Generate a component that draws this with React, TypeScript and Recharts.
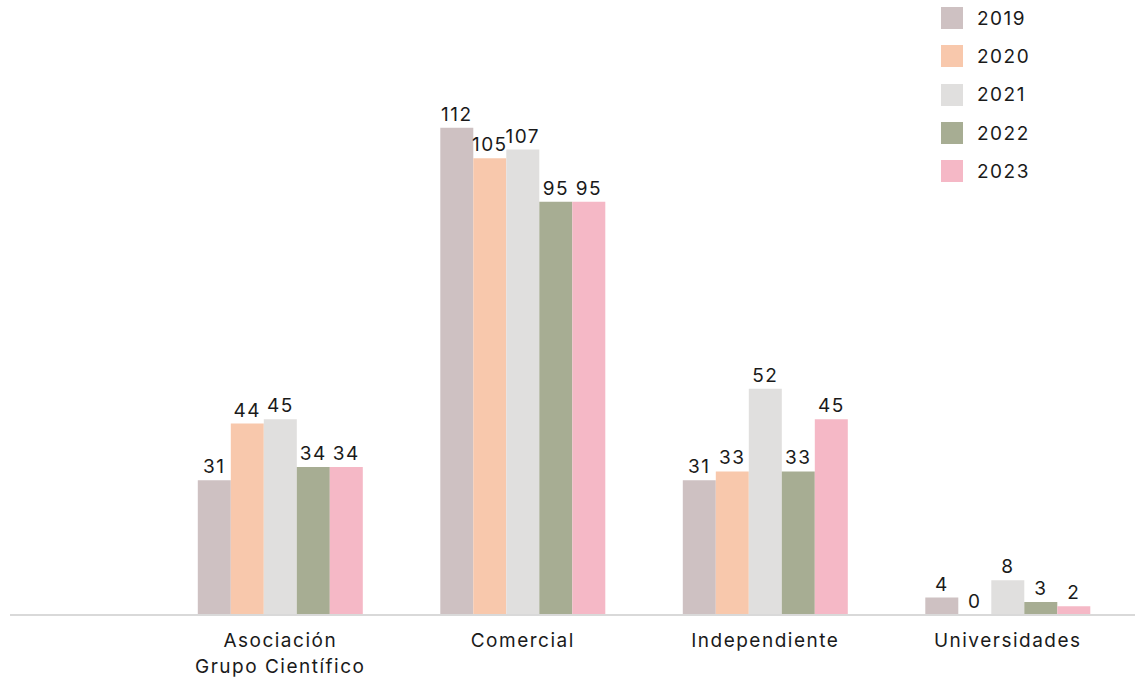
import { BarChart, Bar, XAxis, YAxis, LabelList } from 'recharts'

const categories = ['Asociación\nGrupo Científico', 'Comercial', 'Independiente', 'Universidades']
const years = ['2019', '2020', '2021', '2022', '2023']
const values2019 = [31, 112, 31, 4]
const values2020 = [44, 105, 33, 0]
const values2021 = [45, 107, 52, 8]
const values2022 = [34, 95, 33, 3]
const values2023 = [34, 95, 45, 2]

const seriesValues = [values2019, values2020, values2021, values2022, values2023]
const colors = ['#cec1c2', '#f8c8ac', '#e0dfde', '#a7ad93', '#f5b8c6']

const FONT = 'Inter, "Open Sans", sans-serif'
const TEXT = '#1a1a1a'
const SPACING = 1.5

const data = categories.map((name, i) => {
  const row: Record<string, string | number> = { name }
  years.forEach((y, k) => {
    row[y] = seriesValues[k][i]
  })
  return row
})

function CategoryTick({ x, y, payload }: any) {
  const lines = String(payload.value).split('\n')
  return (
    <text x={x} y={y} textAnchor="middle" fill={TEXT} fontSize={19} fontFamily={FONT} letterSpacing={SPACING}>
      {lines.map((line, i) => (
        <tspan key={i} x={x} dy={i === 0 ? 24 : 26}>
          {line}
        </tspan>
      ))}
    </text>
  )
}

// keep a label on zero bars: give them an invisible height
const zeroSize = (value: any) => (value === 0 ? 0.01 : 0)

export default function App() {
  return (
    <div style={{ position: 'absolute', left: 0, top: 0, width: 1140, height: 683, background: '#fff' }}>
      <BarChart
        width={1140}
        height={683}
        data={data}
        margin={{ top: 93, right: 5, bottom: 8, left: 10 }}
        barCategoryGap="16%"
        barGap={0}
      >
        <XAxis
          dataKey="name"
          axisLine={{ stroke: '#d9d9d9', strokeWidth: 2 }}
          tickLine={false}
          height={60}
          interval={0}
          padding={{ left: 149, right: 6 }}
          tick={<CategoryTick />}
        />
        <YAxis hide domain={[0, 120]} />
        {years.map((y, k) => (
          <Bar key={y} dataKey={y} fill={colors[k]} minPointSize={zeroSize} isAnimationActive={false}>
            <LabelList
              dataKey={y}
              position="top"
              offset={7}
              fill={TEXT}
              fontSize={19}
              fontFamily={FONT}
              letterSpacing={SPACING}
            />
          </Bar>
        ))}
      </BarChart>
      <div
        style={{
          position: 'absolute',
          left: 941,
          top: -1,
          fontFamily: FONT,
          fontSize: 19,
          letterSpacing: SPACING,
          color: TEXT,
        }}
      >
        {years.map((y, k) => (
          <div key={y} style={{ display: 'flex', alignItems: 'center', height: 38.3 }}>
            <span style={{ width: 22, height: 22, background: colors[k], display: 'inline-block', marginRight: 14 }} />
            <span>{y}</span>
          </div>
        ))}
      </div>
    </div>
  )
}
